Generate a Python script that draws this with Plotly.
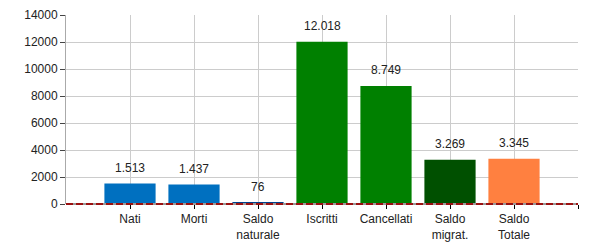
import plotly.graph_objects as go

categories = ["Nati", "Morti", "Saldo<br>naturale", "Iscritti", "Cancellati", "Saldo<br>migrat.", "Saldo<br>Totale"]
values = [1513, 1437, 76, 12018, 8749, 3269, 3345]
colors = ["#0070C0", "#0070C0", "#00418A", "#008000", "#008000", "#005000", "#FF8040"]
y_ticks = [0, 2000, 4000, 6000, 8000, 10000, 12000, 14000]

def fmt(v):
    return f"{v:,}".replace(",", ".")

xs = list(range(len(categories)))

fig = go.Figure()
fig.add_trace(go.Bar(x=xs, y=values, marker=dict(color=colors, line=dict(width=0)),
                     width=0.8, hoverinfo="skip"))

for x, v in zip(xs, values):
    fig.add_annotation(x=x, y=v, text=fmt(v), showarrow=False, yanchor="bottom",
                       yshift=7, font=dict(family="Liberation Sans, Arial", size=12, color="#222"))

fig.add_shape(type="line", x0=0, x1=1, y0=0, y1=0, xref="paper", yref="paper",
              line=dict(color="#999999", width=2), layer="above")
fig.add_shape(type="line", x0=0, x1=1, y0=0, y1=0, xref="paper", yref="paper",
              line=dict(color="#9B1010", width=2, dash="7px,3px"), layer="above")

fig.update_layout(
    width=600, height=250,
    margin=dict(l=66, r=22, t=15, b=46, autoexpand=False),
    paper_bgcolor="white", plot_bgcolor="white",
    showlegend=False,
    font=dict(family="Liberation Sans, Arial", size=12, color="#222"),
    xaxis=dict(range=[-1, len(categories)], tickmode="array",
               tickvals=xs + [len(categories)], ticktext=categories + [""],
               showgrid=True, gridcolor="#cccccc", gridwidth=1,
               ticks="outside", ticklen=4, tickcolor="#000",
               showline=False, zeroline=False, fixedrange=True, automargin=False),
    yaxis=dict(range=[0, 14000], tickmode="array", tickvals=y_ticks,
               ticktext=[str(t) for t in y_ticks],
               showgrid=True, gridcolor="#cccccc", gridwidth=1,
               ticks="outside", ticklen=5, tickcolor="#444",
               showline=True, linecolor="#aaaaaa", linewidth=1,
               zeroline=False, fixedrange=True, automargin=False),
)

fig.write_html("out.html")
